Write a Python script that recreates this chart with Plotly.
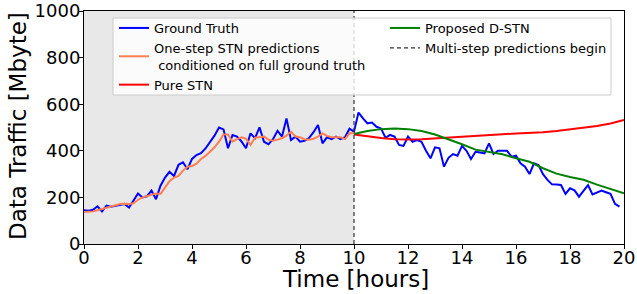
import plotly.graph_objects as go

# ---- data ----
step_h = 1 / 6  # 10-minute samples
ground_truth = [145, 143, 147, 162, 140, 165, 160, 163, 167, 172,
                157, 185, 217, 200, 205, 229, 192, 250, 285, 310,
                292, 340, 351, 321, 365, 382, 390, 410, 439, 465,
                500, 492, 411, 468, 461, 440, 411, 475, 454, 501,
                439, 428, 450, 486, 461, 539, 446, 461, 439, 443,
                455, 480, 511, 432, 458, 450, 461, 450, 458, 495,
                482, 564, 539, 518, 521, 503, 496, 456, 468, 461,
                425, 421, 461, 439, 446, 439, 400, 368, 415, 411,
                332, 370, 386, 379, 421, 400, 365, 396, 393, 389,
                432, 386, 400, 400, 400, 375, 379, 346, 332, 300,
                346, 339, 300, 275, 256, 255, 253, 215, 239, 230,
                203, 228, 253, 213, 222, 229, 222, 215, 172, 160]
one_step_stn = [137, 138, 140, 145, 150, 155, 160, 165, 172, 173,
                172, 175, 190, 200, 205, 210, 217, 215, 240, 270,
                285, 292, 315, 332, 335, 345, 365, 378, 396, 415,
                439, 470, 470, 439, 450, 458, 452, 425, 456, 458,
                461, 448, 443, 448, 454, 465, 482, 461, 458, 450,
                448, 452, 461, 475, 464, 458, 458, 458, 450, 475, 475]
multi_hours = [10, 10.5, 11, 11.5, 12, 12.5, 13, 13.5, 14, 14.5, 15,
               15.5, 16, 16.5, 17, 17.5, 18, 18.5, 19, 19.5, 20]
pure_stn = [470, 462, 455, 450, 448, 450, 454, 458, 462, 465, 468,
            471, 474, 476, 480, 485, 491, 498, 506, 517, 532]
proposed_dstn = [472, 485, 493, 496, 493, 485, 470, 450, 428, 405, 396,
                 385, 368, 353, 325, 302, 288, 276, 255, 237, 218]
multi_step_begin = 10
x_ticks = [0, 2, 4, 6, 8, 10, 12, 14, 16, 18, 20]
y_ticks = [0, 200, 400, 600, 800, 1000]

t_gt = [i * step_h for i in range(len(ground_truth))]
t_os = [i * step_h for i in range(len(one_step_stn))]

FONT = "DejaVu Sans"
fig = go.Figure()

fig.add_trace(go.Scatter(x=t_gt, y=ground_truth, mode="lines", name="Ground Truth",
                         line=dict(color="#0000ff", width=2), legend="legend"))
fig.add_trace(go.Scatter(x=t_os, y=one_step_stn, mode="lines",
                         name="One-step STN predictions<br>\u00a0conditioned on full ground truth",
                         line=dict(color="#ff7f50", width=2), legend="legend"))
fig.add_trace(go.Scatter(x=multi_hours, y=pure_stn, mode="lines", name="Pure STN",
                         line=dict(color="#ff0000", width=2), legend="legend"))
fig.add_trace(go.Scatter(x=multi_hours, y=proposed_dstn, mode="lines", name="Proposed D-STN",
                         line=dict(color="#008000", width=2), legend="legend2"))
fig.add_trace(go.Scatter(x=[multi_step_begin, multi_step_begin], y=[y_ticks[0], y_ticks[-1]],
                         mode="lines", name="Multi-step predictions begin",
                         line=dict(color="#333333", width=1.2, dash="4px,3px"), legend="legend2"))

W, H = 637, 294
PL, PR, PT, PB = 84, 624, 11, 244  # plot area in page pixels
L, T, R, B = PL, PT, W - PR, H - PB

def px2x(px):
    return (px - PL) / (PR - PL)

def py2y(py):
    return (PB - py) / (PB - PT)

fig.update_layout(
    width=W, height=H,
    margin=dict(l=L, r=R, t=T, b=B, autoexpand=False),
    paper_bgcolor="white", plot_bgcolor="white",
    font=dict(family=FONT, color="black"),
    shapes=[
        dict(type="rect", xref="x", yref="y", x0=0, x1=multi_step_begin, y0=0, y1=1000,
             fillcolor="#e8e8e8", line=dict(width=0), layer="below"),
        dict(type="rect", xref="paper", yref="paper",
             x0=px2x(113), x1=px2x(611), y0=py2y(95), y1=py2y(18),
             fillcolor="rgba(255,255,255,0.8)", line=dict(color="#cccccc", width=1), layer="above"),
    ],
    legend=dict(x=px2x(114), y=py2y(13), xanchor="left", yanchor="top",
                bgcolor="rgba(0,0,0,0)", font=dict(size=13, family=FONT),
                tracegroupgap=0, itemwidth=30),
    legend2=dict(x=px2x(385), y=py2y(13), xanchor="left", yanchor="top",
                 bgcolor="rgba(0,0,0,0)", font=dict(size=13, family=FONT),
                 tracegroupgap=0, itemwidth=30),
    xaxis=dict(range=[0, 20], tickvals=x_ticks, ticks="outside", ticklen=4, tickcolor="black",
               showline=True, linecolor="black", linewidth=1, mirror=True, showgrid=False,
               zeroline=False, tickfont=dict(size=18), automargin=False, ticklabelstandoff=-7),
    yaxis=dict(range=[0, 1000], tickvals=y_ticks, ticks="outside", ticklen=4, tickcolor="black",
               showline=True, linecolor="black", linewidth=1, mirror=True, showgrid=False,
               zeroline=False, tickfont=dict(size=18), automargin=False, ticklabelstandoff=-5),
    annotations=[
        dict(text="Time [hours]", xref="paper", yref="paper", x=px2x(355), y=py2y(279),
             xanchor="center", yanchor="middle", showarrow=False, font=dict(size=23)),
        dict(text="Data Traffic [Mbyte]", xref="paper", yref="paper", x=px2x(18), y=py2y(126),
             xanchor="center", yanchor="middle", showarrow=False, textangle=-90,
             font=dict(size=23)),
    ],
)

fig.write_html("out.html", config={"displayModeBar": False},
               post_script="document.body.style.margin='0';document.body.style.overflow='hidden';")
